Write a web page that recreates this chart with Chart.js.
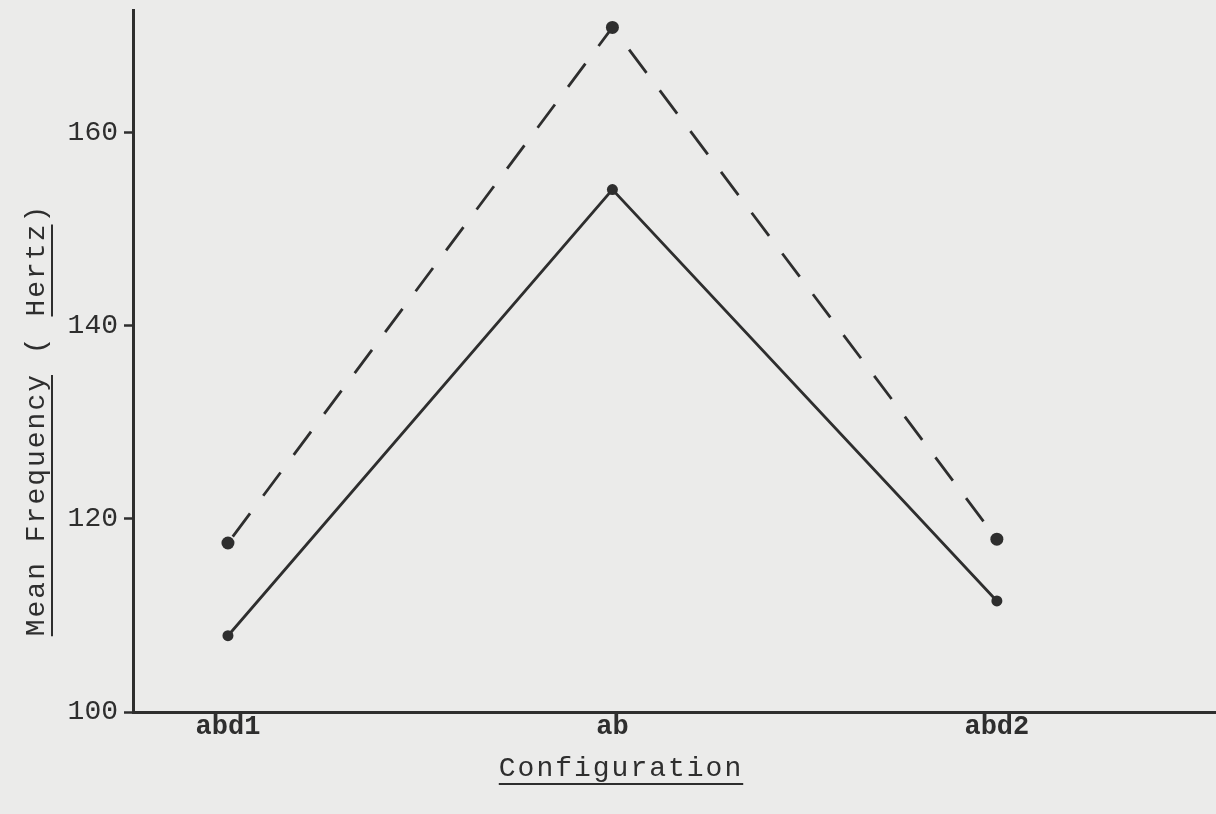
<!DOCTYPE html>
<html>
<head>
<meta charset="utf-8">
<script src="https://cdn.jsdelivr.net/npm/chart.js@4"></script>
<style>
  html, body { margin: 0; padding: 0; background: #ebebea; overflow: hidden; }
  canvas { display: block; }
</style>
</head>
<body>
<canvas id="chartFreq" width="1216" height="814"></canvas>
<script>
const configs   = ['abd1', 'ab', 'abd2'];
const dashedHz  = [117.5, 170.9, 117.9];
const solidHz   = [107.9, 154.1, 111.5];
const yTicks    = [100, 120, 140, 160];
const xTitle    = 'Configuration';
const yTitle    = ['Mean Frequency', ' ( ', 'Hertz', ')'];

const ink  = '#2e2e2e';
const font = '"Liberation Mono", "DejaVu Sans Mono", monospace';

/* ── underlined typewriter titles ───────────────────────── */
const titles = {
  id: 'titles',
  afterDraw(chart) {
    const { ctx } = chart;
    ctx.save();
    ctx.fillStyle = ink;
    ctx.strokeStyle = ink;
    ctx.lineWidth = 2;
    ctx.font = '28px ' + font;
    ctx.letterSpacing = '2px';
    ctx.textBaseline = 'alphabetic';

    // x title
    const w = ctx.measureText(xTitle).width;
    const cx = 621, by = 776;
    ctx.textAlign = 'left';
    ctx.fillText(xTitle, cx - w / 2, by);
    ctx.beginPath();
    ctx.moveTo(cx - w / 2, by + 8);
    ctx.lineTo(cx + w / 2, by + 8);
    ctx.stroke();

    // y title, rotated
    const parts = yTitle.map(t => ctx.measureText(t).width);
    const total = parts.reduce((s, v) => s + v, 0);
    ctx.translate(44, 420);
    ctx.rotate(-Math.PI / 2);
    let x = -total / 2;
    yTitle.forEach((t, i) => {
      ctx.fillText(t, x, 0);
      if (i === 0 || i === 2) {
        ctx.beginPath();
        ctx.moveTo(x, 8);
        ctx.lineTo(x + parts[i] - 2, 8);
        ctx.stroke();
      }
      x += parts[i];
    });
    ctx.restore();
  },
};

new Chart(document.getElementById('chartFreq'), {
  type: 'line',
  data: {
    datasets: [
      {
        data: dashedHz.map((v, i) => ({ x: i, y: v })),
        borderColor: ink,
        borderWidth: 2.8,
        borderDash: [29, 22],
        borderDashOffset: -8,
        pointRadius: 6.5,
        pointBackgroundColor: ink,
        pointBorderWidth: 0,
        tension: 0,
      },
      {
        data: solidHz.map((v, i) => ({ x: i, y: v })),
        borderColor: ink,
        borderWidth: 2.8,
        pointRadius: 5.5,
        pointBackgroundColor: ink,
        pointBorderWidth: 0,
        tension: 0,
      },
    ],
  },
  options: {
    responsive: false,
    animation: false,
    layout: { autoPadding: false, padding: { top: 10, right: 0, left: 0, bottom: 0 } },
    plugins: {
      legend: { display: false },
      tooltip: { enabled: false },
    },
    scales: {
      x: {
        type: 'linear',
        min: -0.247,
        max: 2.57,
        afterBuildTicks: s => { s.ticks = configs.map((_, i) => ({ value: i })); },
        afterFit: s => { s.height = 102; s.paddingLeft = 0; s.paddingRight = 0; },
        ticks: {
          callback: v => configs[v],
          color: ink,
          font: { family: font, size: 27, weight: 'bold' },
          padding: -1,
          maxRotation: 0,
        },
        grid: { display: false, tickLength: 0 },
        border: { display: true, color: ink, width: 3 },
      },
      y: {
        min: 100,
        max: 172.7,
        afterBuildTicks: s => { s.ticks = yTicks.map(v => ({ value: v })); },
        afterFit: s => { s.width = 133; s.paddingTop = 0; s.paddingBottom = 0; },
        ticks: {
          color: ink,
          font: { family: font, size: 28 },
          padding: 6,
        },
        grid: { display: true, drawOnChartArea: false, tickLength: 9, tickWidth: 2.5, tickColor: ink },
        border: { display: true, color: ink, width: 3 },
      },
    },
  },
  plugins: [titles],
});
</script>
</body>
</html>
